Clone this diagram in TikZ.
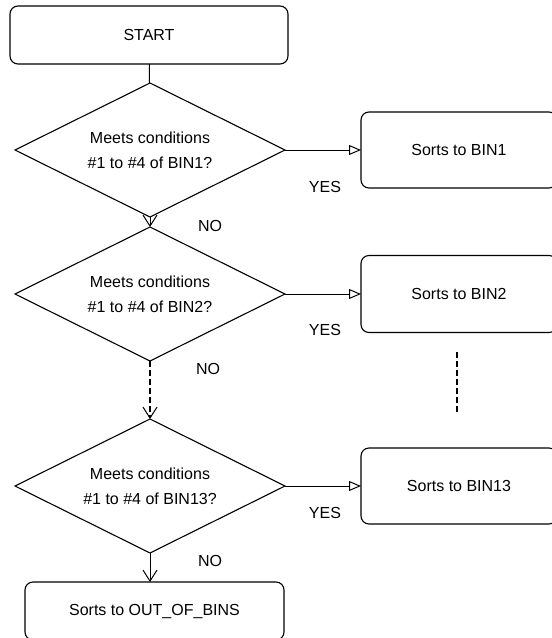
\documentclass[tikz,border=0pt]{standalone}
\usepackage{fontspec}
\setmainfont{Liberation Sans}
\usetikzlibrary{shapes.geometric,arrows.meta}
\tikzset{
  box/.style={draw,line width=1.1pt,rounded corners=8pt,inner sep=0pt,outer sep=0pt,font=\fontsize{16}{25}\selectfont},
  test/.style={draw,diamond,shape aspect=2,line width=1.1pt,minimum width=270pt,minimum height=134pt,inner sep=0pt,outer sep=0pt,align=center,font=\fontsize{16}{25}\selectfont},
  lbl/.style={inner sep=0pt,font=\fontsize{16}{25}\selectfont},
  yes/.style={line width=0.8pt,-{Triangle[open,length=12pt,width=10pt,line width=1pt]}},
  no/.style={line width=0.9pt,-{Straight Barb[length=11pt,width=14pt,line width=1pt]}},
  dots/.style={line width=2.4pt,dash pattern=on 6pt off 3pt},
}
\begin{document}
\begin{tikzpicture}[x=1pt,y=-1pt]
        \useasboundingbox (0,0) rectangle (552,638);
        \clip (0,0) rectangle (552,638);
        \fill[white] (0,0) rectangle (552,638);
        % left column: tests
        \node[box,minimum width=278pt,minimum height=58pt] (start) at (149,35) {START};
        \node[test] (test1) at (150,150) {Meets conditions\\\#1 to \#4 of BIN1?};
        \node[test] (test2) at (150,294) {Meets conditions\\\#1 to \#4 of BIN2?};
        \node[test] (test13) at (150,486) {Meets conditions\\\#1 to \#4 of BIN13?};
        \node[box,minimum width=259pt,minimum height=58pt] (out) at (154.5,611) {Sorts to OUT\_OF\_BINS};
        % right column: bins
        \node[box,minimum width=196pt,minimum height=76pt] (bin1) at (459,150) {Sorts to BIN1};
        \node[box,minimum width=196pt,minimum height=77pt] (bin2) at (459,294) {Sorts to BIN2};
        \node[box,minimum width=196pt,minimum height=76pt] (bin13) at (459,486) {Sorts to BIN13};
        \coordinate (gap1) at (457,352);
        \coordinate (gap2) at (457,413);
        % connectors
        \draw[line width=1pt] (start) -- (test1);
        \draw[yes] (test1.east) -- (bin1.west);
        \draw[yes] (test2.east) -- (bin2.west);
        \draw[yes] (test13.east) -- (bin13.west);
        \draw[no] (test1.south) -- (test2.north);
        \draw[dots,-{Straight Barb[length=11pt,width=14pt,line width=1pt]}] (test2.south) -- (test13.north);
        \draw[no] (test13.south) -- (test13.south |- out.north);
        \draw[dots] (gap1) -- (gap2);
        % labels
        \node[lbl] (yes1) at (325,187) {YES};
        \node[lbl] (yes2) at (325,330) {YES};
        \node[lbl] (yes13) at (325,513) {YES};
        \node[lbl] (no1) at (210,226) {NO};
        \node[lbl] (no2) at (208,369) {NO};
        \node[lbl] (no13) at (210,561) {NO};
\end{tikzpicture}
\end{document}
